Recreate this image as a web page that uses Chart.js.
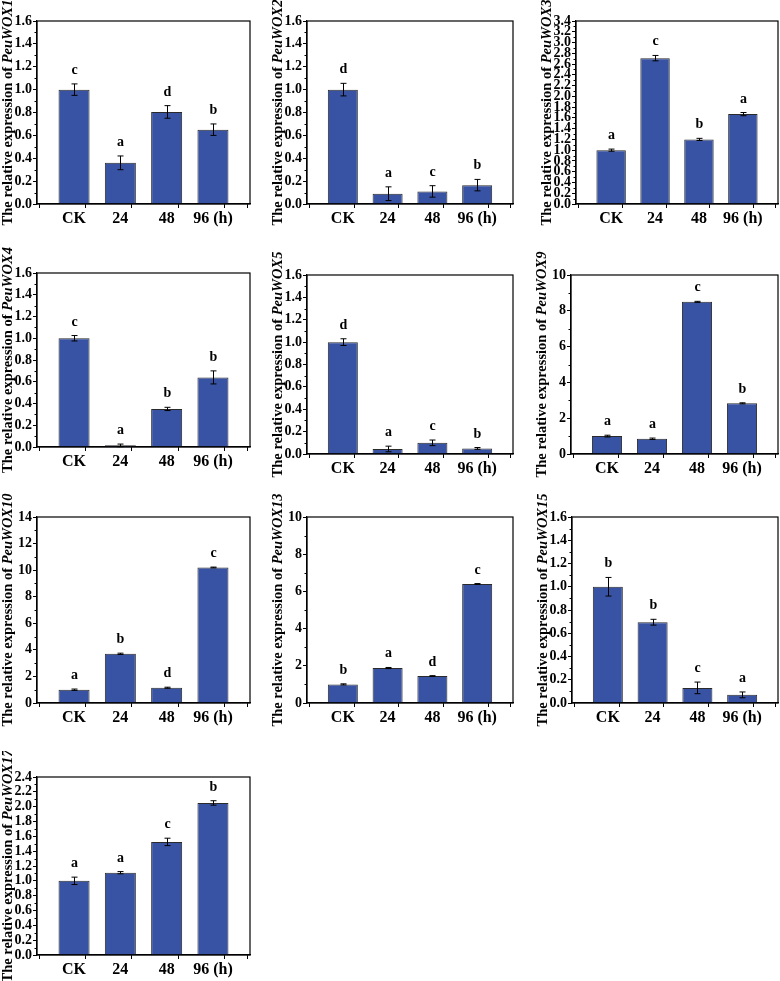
<!DOCTYPE html>
<html>
<head>
<meta charset="utf-8">
<script src="https://cdn.jsdelivr.net/npm/chart.js@4.4.0/dist/chart.umd.min.js"></script>
<style>
  html, body { margin: 0; padding: 0; background: #fff; }
  #wrap { position: relative; width: 780px; height: 981px; overflow: hidden; }
  #wrap canvas { position: absolute; }
</style>
</head>
<body>
<div id="wrap"></div>
<script>
'use strict';

// x categories (hours after treatment)
const categories = ['CK', '24', '48', '96 (h)'];

// one small set of arrays per gene
const wox1Values = [1.0, 0.36, 0.805, 0.65];
const wox1Errors = [0.05, 0.06, 0.055, 0.05];
const wox1Letters = ['c', 'a', 'd', 'b'];

const wox2Values = [1.0, 0.09, 0.11, 0.165];
const wox2Errors = [0.055, 0.06, 0.05, 0.05];
const wox2Letters = ['d', 'a', 'c', 'b'];

const wox3Values = [1.0, 2.71, 1.2, 1.67];
const wox3Errors = [0.02, 0.05, 0.02, 0.03];
const wox3Letters = ['a', 'c', 'b', 'a'];

const wox4Values = [1.0, 0.015, 0.35, 0.64];
const wox4Errors = [0.025, 0.012, 0.015, 0.06];
const wox4Letters = ['c', 'a', 'b', 'b'];

const wox5Values = [1.0, 0.045, 0.1, 0.05];
const wox5Errors = [0.03, 0.025, 0.025, 0.008];
const wox5Letters = ['d', 'a', 'c', 'b'];

const wox9Values = [1.0, 0.85, 8.5, 2.83];
const wox9Errors = [0.05, 0.04, 0.03, 0.03];
const wox9Letters = ['a', 'a', 'c', 'b'];

const wox10Values = [1.0, 3.7, 1.15, 10.2];
const wox10Errors = [0.05, 0.05, 0.04, 0.03];
const wox10Letters = ['a', 'b', 'd', 'c'];

const wox13Values = [1.0, 1.88, 1.45, 6.4];
const wox13Errors = [0.03, 0.03, 0.02, 0.02];
const wox13Letters = ['b', 'a', 'd', 'c'];

const wox15Values = [1.0, 0.695, 0.13, 0.07];
const wox15Errors = [0.08, 0.025, 0.05, 0.025];
const wox15Letters = ['b', 'b', 'c', 'a'];

const wox17Values = [1.0, 1.11, 1.525, 2.05];
const wox17Errors = [0.05, 0.015, 0.05, 0.03];
const wox17Letters = ['a', 'a', 'c', 'b'];

// y axis ranges
const geneNames = ['PeuWOX1', 'PeuWOX2', 'PeuWOX3', 'PeuWOX4', 'PeuWOX5',
                   'PeuWOX9', 'PeuWOX10', 'PeuWOX13', 'PeuWOX15', 'PeuWOX17'];
const yMaxes = [1.6, 1.6, 3.4, 1.6, 1.6, 10, 14, 10, 1.6, 2.4];
const ySteps = [0.2, 0.2, 0.2, 0.2, 0.2, 2, 2, 2, 0.2, 0.2];

const allValues = [wox1Values, wox2Values, wox3Values, wox4Values, wox5Values,
                   wox9Values, wox10Values, wox13Values, wox15Values, wox17Values];
const allErrors = [wox1Errors, wox2Errors, wox3Errors, wox4Errors, wox5Errors,
                   wox9Errors, wox10Errors, wox13Errors, wox15Errors, wox17Errors];
const allLetters = [wox1Letters, wox2Letters, wox3Letters, wox4Letters, wox5Letters,
                    wox9Letters, wox10Letters, wox13Letters, wox15Letters, wox17Letters];

// plot boxes on the page: left, top, right, bottom
const boxes = [
    [37, 21, 250, 204], [307, 21, 513, 204], [576, 21, 778, 204],
    [37, 273, 250, 447], [307, 275, 513, 454], [571, 275, 778, 454],
    [37, 517, 250, 703], [307, 517, 513, 703], [572, 517, 778, 703],
    [37, 777, 250, 955]
];

const FONT = '"Liberation Serif", "Times New Roman", serif';
const BAR_COLOR = '#3953a4';
const PAD_L = 37, PAD_T = 26, PAD_R = 3, PAD_B = 30;

const extras = {
    id: 'extras',
    afterDatasetsDraw(chart, args, opts) {
        const { ctx, scales: { x, y } } = chart;
        ctx.save();
        ctx.strokeStyle = '#000';
        ctx.lineWidth = 1;
        ctx.fillStyle = '#000';
        ctx.font = 'bold 14px ' + FONT;
        ctx.textAlign = 'center';
        ctx.textBaseline = 'alphabetic';
        opts.values.forEach((v, i) => {
            const e = opts.errors[i];
            const px = Math.round(x.getPixelForValue(i)) + 0.5;
            const top = y.getPixelForValue(v + e);
            const bot = y.getPixelForValue(Math.max(v - e, 0));
            ctx.beginPath();
            ctx.moveTo(px, top); ctx.lineTo(px, bot);
            ctx.moveTo(px - 3, top); ctx.lineTo(px + 3, top);
            ctx.moveTo(px - 3, bot); ctx.lineTo(px + 3, bot);
            ctx.stroke();
            ctx.fillText(opts.letters[i], px, top - 10);
        });
        ctx.restore();
    },
    afterDraw(chart, args, opts) {
        const { ctx, chartArea: a, scales: { y } } = chart;
        ctx.save();
        // frame
        ctx.strokeStyle = '#000';
        ctx.lineWidth = 1.2;
        ctx.strokeRect(a.left, a.top, a.right - a.left, a.bottom - a.top);
        // minor ticks
        ctx.lineWidth = 1;
        const ticks = y.ticks;
        for (let i = 0; i < ticks.length - 1; i++) {
            const mid = (ticks[i].value + ticks[i + 1].value) / 2;
            const py = Math.round(y.getPixelForValue(mid)) + 0.5;
            ctx.beginPath();
            ctx.moveTo(a.left, py);
            ctx.lineTo(a.left - 2.5, py);
            ctx.stroke();
        }
        // y title with italic gene name
        const plain = 'The relative expression of ';
        const fPlain = 'bold 14.5px ' + FONT;
        const fItal = 'italic bold 14.5px ' + FONT;
        ctx.font = fPlain;
        const w1 = ctx.measureText(plain).width;
        ctx.font = fItal;
        const w2 = ctx.measureText(opts.gene).width;
        ctx.translate(a.left - 29, (a.top + a.bottom) / 2);
        ctx.rotate(-Math.PI / 2);
        ctx.fillStyle = '#000';
        ctx.textBaseline = 'middle';
        ctx.textAlign = 'left';
        const start = -(w1 + w2) / 2;
        ctx.font = fPlain;
        ctx.fillText(plain, start, 0);
        ctx.font = fItal;
        ctx.fillText(opts.gene, start + w1, 0);
        ctx.restore();
    }
};

const wrap = document.getElementById('wrap');

boxes.forEach((b, k) => {
    const [l, t, r, btm] = b;
    const canvas = document.createElement('canvas');
    const w = r - l + PAD_L + PAD_R;
    const h = btm - t + PAD_T + PAD_B;
    canvas.width = w;
    canvas.height = h;
    canvas.style.width = w + 'px';
    canvas.style.height = h + 'px';
    canvas.style.left = (l - PAD_L) + 'px';
    canvas.style.top = (t - PAD_T) + 'px';
    wrap.appendChild(canvas);

    const step = ySteps[k];

    new Chart(canvas, {
        type: 'bar',
        data: {
            datasets: [{
                data: allValues[k].map((v, i) => ({ x: i, y: v })),
                backgroundColor: BAR_COLOR,
                borderColor: '#2a2a2a',
                borderWidth: 1,
                // tick spacing is half a category, so 1.34 of it = 0.67 of a category
                barPercentage: 1.34,
                categoryPercentage: 1,
            }]
        },
        options: {
            responsive: false,
            animation: false,
            devicePixelRatio: 1,
            layout: { padding: { left: 0, top: PAD_T, right: PAD_R, bottom: 0 } },
            scales: {
                x: {
                    type: 'linear',
                    min: -0.8,
                    max: 3.8,
                    offset: false,
                    afterBuildTicks: s => {
                        s.ticks = [-0.5, 0, 0.5, 1, 1.5, 2, 2.5, 3, 3.5].map(v => ({ value: v }));
                    },
                    afterFit: s => { s.height = PAD_B; },
                    grid: {
                        drawOnChartArea: false,
                        tickLength: 4,
                        tickColor: c => (c.tick && Number.isInteger(c.tick.value)) ? 'rgba(0,0,0,0)' : '#000',
                    },
                    border: { color: '#000', width: 1.2 },
                    ticks: {
                        autoSkip: false,
                        maxRotation: 0,
                        padding: 1,
                        color: '#000',
                        font: { family: FONT, size: 16, weight: 'bold' },
                        callback: v => Number.isInteger(v) ? categories[v] : '',
                    }
                },
                y: {
                    min: 0,
                    max: yMaxes[k],
                    afterFit: s => { s.width = PAD_L; },
                    grid: { drawOnChartArea: false, tickLength: 4, color: '#000' },
                    border: { color: '#000', width: 1.2 },
                    ticks: {
                        stepSize: step,
                        autoSkip: false,
                        padding: 1,
                        color: '#000',
                        font: { family: FONT, size: 14, weight: 'bold' },
                        callback: v => step < 1 ? v.toFixed(1) : String(v),
                    }
                }
            },
            plugins: {
                legend: { display: false },
                tooltip: { enabled: false },
                extras: {
                    values: allValues[k],
                    errors: allErrors[k],
                    letters: allLetters[k],
                    gene: geneNames[k],
                }
            }
        },
        plugins: [extras]
    });
});
</script>
</body>
</html>
